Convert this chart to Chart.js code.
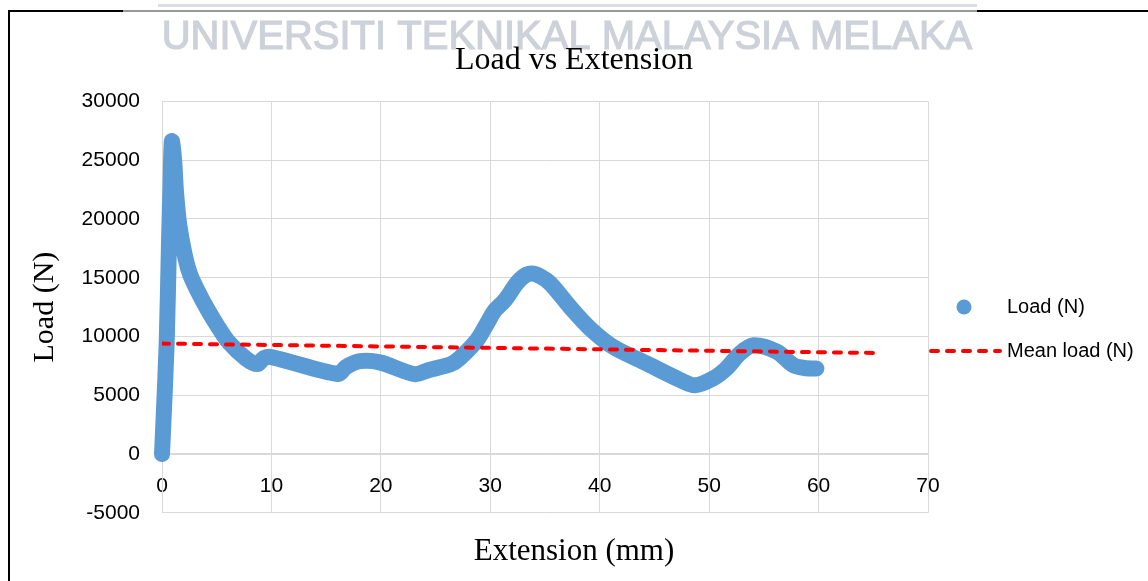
<!DOCTYPE html>
<html>
<head>
<meta charset="utf-8">
<script src="https://cdn.jsdelivr.net/npm/chart.js@4.4.1/dist/chart.umd.min.js"></script>
<style>
html, body { margin: 0; padding: 0; background: #fff; }
#wrap { width: 1148px; height: 581px; }
</style>
</head>
<body>
<div id="wrap"><canvas id="load-chart"></canvas></div>
<script>
// values
var extension = [0, 0.12, 0.43, 0.64, 0.78, 0.9, 1.1, 1.28, 1.58, 2.16, 2.6, 3.3, 4.1, 5.0, 6.1, 7.7, 8.7, 9.3, 10.0,
    16.1, 16.8, 18.1, 19.9, 23.1, 24.4, 26.4, 27.2, 28.8, 29.7, 30.4, 31.35, 32.4, 33.1, 33.8, 34.6, 35.5,
    37.3, 39.1, 41.25, 44.3, 47.35, 48.7, 50.4, 51.6, 52.8, 54.05, 56.2, 57.7, 58.9, 59.8];
var load = [0, 2500, 9500, 18000, 23000, 26600, 25100, 22300, 19500, 16600, 15200, 13800, 12400, 11000, 9500, 8100, 7650, 8150, 8250,
    6800, 7400, 7900, 7800, 6800, 7150, 7650, 8150, 9700, 11100, 12200, 13100, 14500, 15150, 15350, 15100, 14500,
    12500, 10700, 9100, 7700, 6300, 5850, 6450, 7300, 8550, 9250, 8700, 7550, 7300, 7280];
var meanExtension = [0, 65];
var meanLoad = [9400, 8600];
var yTicks = [-5000, 0, 5000, 10000, 15000, 20000, 25000, 30000];
var xTicks = [0, 10, 20, 30, 40, 50, 60, 70];

var serif = '"Liberation Serif", "Times New Roman", serif';
var sans = '"Liberation Sans", Arial, sans-serif';
var gridColor = '#d9d9d9';

function pairs(xs, ys) {
    return xs.map(function (x, i) { return { x: x, y: ys[i] }; });
}

function fixedTicks(list) {
    return function (s) { s.ticks = list.map(function (v) { return { value: v }; }); };
}

// border frame + faded university watermark behind the chart
var frame = {
    id: 'frame',
    beforeDraw: function (chart) {
        var c = chart.ctx;
        c.save();
        c.strokeStyle = '#000';
        c.lineWidth = 2;
        c.beginPath();
        c.moveTo(9, 581);
        c.lineTo(9, 11);
        c.lineTo(1148, 11);
        c.stroke();
        c.fillStyle = 'rgba(255,255,255,0.6)';
        c.fillRect(123, 0, 854, 54);
        c.fillStyle = '#d9dde4';
        c.fillRect(158, 4, 819, 3);
        c.font = '40px ' + sans;
        c.fillStyle = '#cdd1d9';
        c.strokeStyle = '#cdd1d9';
        c.lineWidth = 1.2;
        c.textAlign = 'center';
        c.textBaseline = 'middle';
        c.fillText('UNIVERSITI TEKNIKAL MALAYSIA MELAKA', 567, 38);
        c.strokeText('UNIVERSITI TEKNIKAL MALAYSIA MELAKA', 567, 38);
        c.restore();
    }
};

// legend on the right, Excel style
var sideLegend = {
    id: 'sideLegend',
    afterDraw: function (chart) {
        var c = chart.ctx;
        var mean = chart.data.datasets[0], main = chart.data.datasets[1];
        c.save();
        c.fillStyle = main.borderColor;
        c.beginPath();
        c.arc(964, 307, 7.5, 0, Math.PI * 2);
        c.fill();
        c.strokeStyle = mean.borderColor;
        c.lineWidth = mean.borderWidth;
        c.lineCap = 'round';
        c.setLineDash(mean.borderDash);
        c.beginPath();
        c.moveTo(931, 351);
        c.lineTo(1000, 351);
        c.stroke();
        c.font = '20px ' + sans;
        c.fillStyle = '#000';
        c.textBaseline = 'middle';
        c.fillText(main.label, 1007, 307);
        c.fillText(mean.label, 1007, 351);
        c.restore();
    }
};

var ctx = document.getElementById('load-chart').getContext('2d');
var chart = new Chart(ctx, {
    type: 'scatter',
    data: {
        datasets: [{
            label: 'Mean load (N)',
            data: pairs(meanExtension, meanLoad),
            showLine: true,
            borderColor: '#ff0000',
            borderWidth: 4,
            borderDash: [7, 9],
            borderCapStyle: 'round',
            pointRadius: 0,
            order: 0
        }, {
            label: 'Load (N)',
            data: pairs(extension, load),
            showLine: true,
            borderColor: '#5b9bd5',
            backgroundColor: '#5b9bd5',
            borderWidth: 16,
            borderCapStyle: 'round',
            borderJoinStyle: 'round',
            tension: 0.3,
            pointRadius: 0,
            clip: false,
            order: 1
        }]
    },
    options: {
        responsive: true,
        maintainAspectRatio: false,
        animation: false,
        layout: { padding: 0 },
        plugins: {
            legend: { display: false },
            tooltip: { enabled: false },
            title: {
                display: true,
                text: 'Load vs Extension',
                color: '#000',
                font: { family: serif, size: 32, weight: 'normal' },
                padding: { top: 41, bottom: 22 }
            },
            subtitle: {
                display: true,
                position: 'bottom',
                text: 'Extension (mm)',
                color: '#000',
                font: { family: serif, size: 31 },
                padding: { top: 20, bottom: 11 }
            }
        },
        scales: {
            x: {
                type: 'linear',
                position: { y: 0 },
                min: 0,
                max: 70,
                afterBuildTicks: fixedTicks(xTicks),
                ticks: { padding: 20, color: '#000', font: { family: sans, size: 21 }, callback: function (v) { return String(v); } },
                grid: { color: gridColor, drawTicks: false },
                border: { color: gridColor, width: 1.5 }
            },
            y: {
                min: -5000,
                max: 30000,
                afterBuildTicks: fixedTicks(yTicks),
                afterFit: function (s) { s.width = 162; },
                ticks: { padding: 22, color: '#000', font: { family: sans, size: 21 }, callback: function (v) { return String(v); } },
                grid: { color: gridColor, drawTicks: false },
                border: { color: gridColor },
                title: {
                    display: true,
                    text: 'Load (N)',
                    color: '#000',
                    font: { family: serif, size: 30 },
                    padding: { top: 27, bottom: 0 }
                }
            },
            // empty right-hand box that keeps room for the legend
            legendSpace: {
                type: 'linear',
                position: 'right',
                grid: { display: false },
                ticks: { display: false },
                border: { display: false },
                afterFit: function (s) { s.width = 220; }
            }
        }
    },
    plugins: [frame, sideLegend]
});
</script>
</body>
</html>
